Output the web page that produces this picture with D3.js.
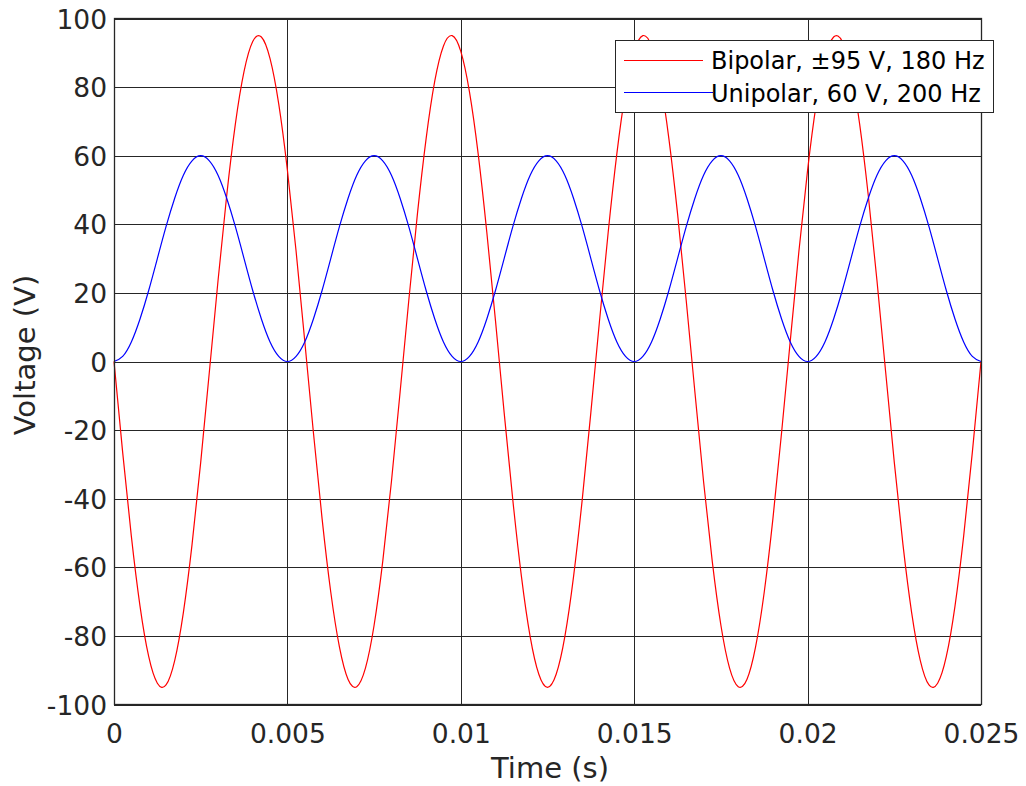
<!DOCTYPE html>
<html>
<head>
<meta charset="utf-8">
<script src="https://cdn.jsdelivr.net/npm/d3@7"></script>
<style>
html,body{margin:0;padding:0;background:#fff;}
svg{display:block;}
text{font-family:"DejaVu Sans",sans-serif;}
</style>
</head>
<body>
<svg id="chart" width="1026" height="786"></svg>
<script>
// Sample times (s), every 0.00025 s from 0 to 0.025
const times = d3.range(101).map(i => i * 0.00025);

// Bipolar, ±95 V, 180 Hz
const bipolar = [0, -26.5, -50.9, -71.3, -86.0, -93.8, -94.3, -87.2, -73.2, -53.4, -29.4, -3.0, 23.6, 48.4, 69.3, 84.6, 93.3, 94.6, 88.3, 75.1, 55.8, 32.2, 6.0, -20.7, -45.8, -67.2, -83.2, -92.7, -94.8, -89.4, -76.9, -58.2, -35.0, -8.9, 17.8, 43.1, 65.0, 81.8, 92.0, 95.0, 90.4, 78.6, 60.6, 37.7, 11.9, -14.9, -40.4, -62.8, -80.2, -91.2, -95.0,
  -91.2, -80.2, -62.8, -40.4, -14.9, 11.9, 37.7, 60.6, 78.6, 90.4, 95.0, 92.0, 81.8, 65.0, 43.1, 17.8, -8.9, -35.0, -58.2, -76.9, -89.4, -94.8, -92.7, -83.2, -67.2, -45.8, -20.7, 6.0, 32.2, 55.8, 75.1, 88.3, 94.6, 93.3, 84.6, 69.3, 48.4, 23.6, -3.0, -29.4, -53.4, -73.2, -87.2, -94.3, -93.8, -86.0, -71.3, -50.9, -26.5, 0];

// Unipolar, 60 V, 200 Hz
const unipolar = [0, 1.5, 5.7, 12.4, 20.7, 30, 39.3, 47.6, 54.3, 58.5, 60, 58.5, 54.3, 47.6, 39.3, 30, 20.7, 12.4, 5.7, 1.5,
  0, 1.5, 5.7, 12.4, 20.7, 30, 39.3, 47.6, 54.3, 58.5, 60, 58.5, 54.3, 47.6, 39.3, 30, 20.7, 12.4, 5.7, 1.5,
  0, 1.5, 5.7, 12.4, 20.7, 30, 39.3, 47.6, 54.3, 58.5, 60, 58.5, 54.3, 47.6, 39.3, 30, 20.7, 12.4, 5.7, 1.5,
  0, 1.5, 5.7, 12.4, 20.7, 30, 39.3, 47.6, 54.3, 58.5, 60, 58.5, 54.3, 47.6, 39.3, 30, 20.7, 12.4, 5.7, 1.5,
  0, 1.5, 5.7, 12.4, 20.7, 30, 39.3, 47.6, 54.3, 58.5, 60, 58.5, 54.3, 47.6, 39.3, 30, 20.7, 12.4, 5.7, 1.5,
  0];

const xTicks = [0, 0.005, 0.01, 0.015, 0.02, 0.025];
const xTickLabels = ["0", "0.005", "0.01", "0.015", "0.02", "0.025"];
const yTicks = [-100, -80, -60, -40, -20, 0, 20, 40, 60, 80, 100];
const yTickLabels = ["-100", "-80", "-60", "-40", "-20", "0", "20", "40", "60", "80", "100"];
const seriesNames = ["Bipolar, \u00B195 V, 180 Hz", "Unipolar, 60 V, 200 Hz"];
const seriesColors = ["#ff0000", "#0000ff"];

const svg = d3.select("#chart");
const L = 114, R = 981, T = 18.5, B = 704.5;
const x = d3.scaleLinear().domain([0, 0.025]).range([L, R]);
const y = d3.scaleLinear().domain([-100, 100]).range([B, T]);
const axisColor = "#262626";

// grid
const grid = svg.append("g");
grid.selectAll("line.gx").data(xTicks).join("line")
  .attr("x1", d => Math.round(x(d)) + 0.5).attr("x2", d => Math.round(x(d)) + 0.5)
  .attr("y1", T).attr("y2", B).attr("stroke", axisColor).attr("stroke-width", 1);
grid.selectAll("line.gy").data(yTicks).join("line")
  .attr("y1", d => Math.round(y(d)) + 0.5).attr("y2", d => Math.round(y(d)) + 0.5)
  .attr("x1", L).attr("x2", R).attr("stroke", axisColor).attr("stroke-width", 1);

// lines
const series = [bipolar, unipolar];
series.forEach((vals, si) => {
  const pts = times.map((t, i) => [t, vals[i]]);
  const line = d3.line().x(d => x(d[0])).y(d => y(d[1])).curve(d3.curveNatural);
  svg.append("path").attr("d", line(pts)).attr("fill", "none")
    .attr("stroke", seriesColors[si]).attr("stroke-width", 1.2);
});

// box
svg.append("rect").attr("x", L + 0.5).attr("y", T).attr("width", R - L).attr("height", B - T)
  .attr("fill", "none").attr("stroke", axisColor).attr("stroke-width", 1.3);

// axes tick labels
const xAxis = d3.axisBottom(x).tickValues(xTicks).tickFormat((d, i) => xTickLabels[i]).tickSize(0).tickPadding(0);
const gx = svg.append("g").attr("transform", `translate(0,${B})`).call(xAxis);
gx.select(".domain").remove();
gx.attr("font-size", null).attr("font-family", null);
gx.selectAll("text").attr("dy", null).attr("y", 38.5)
  .style("font-size", "26.5px").attr("fill", axisColor);

const yAxis = d3.axisLeft(y).tickValues(yTicks).tickFormat((d, i) => yTickLabels[i]).tickSize(0).tickPadding(7);
const gy = svg.append("g").attr("transform", `translate(${L},0)`).call(yAxis);
gy.select(".domain").remove();
gy.attr("font-size", null).attr("font-family", null);
gy.selectAll("text").attr("dy", "0.36em")
  .style("font-size", "26.5px").attr("fill", axisColor);

// axis labels
svg.append("text").attr("x", 550).attr("y", 778).attr("text-anchor", "middle")
  .style("font-size", "29px").attr("fill", axisColor).text("Time (s)");
svg.append("text").attr("transform", `translate(35,355) rotate(-90)`).attr("text-anchor", "middle")
  .style("font-size", "29px").attr("fill", axisColor).text("Voltage (V)");

// legend
const lg = svg.append("g");
lg.append("rect").attr("x", 615.5).attr("y", 40.5).attr("width", 378).attr("height", 72)
  .attr("fill", "#fff").attr("stroke", axisColor).attr("stroke-width", 1);
const lgRows = [{y: 60.5, x2: 703, ty: 69}, {y: 92.5, x2: 713, ty: 102}];
seriesNames.forEach((name, i) => {
  lg.append("line").attr("x1", 624).attr("x2", lgRows[i].x2).attr("y1", lgRows[i].y).attr("y2", lgRows[i].y)
    .attr("stroke", seriesColors[i]).attr("stroke-width", 1.2);
  lg.append("text").attr("x", 711).attr("y", lgRows[i].ty).style("font-size", "24px").attr("fill", "#000").text(name);
});
</script>
</body>
</html>
